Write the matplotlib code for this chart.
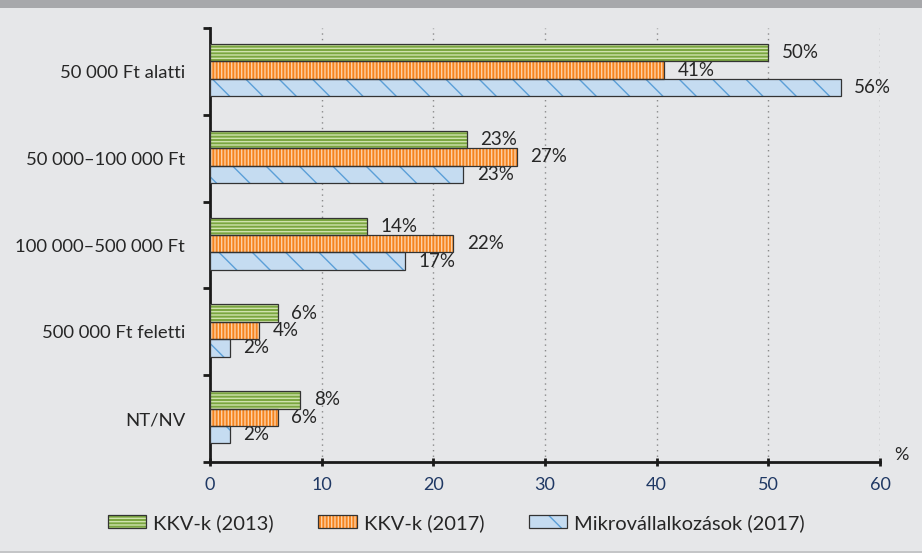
import matplotlib.pyplot as plt
import numpy as np
from matplotlib.patches import Patch, Rectangle

plt.rcParams['font.family'] = ['Lato', 'DejaVu Sans']
plt.rcParams['hatch.linewidth'] = 1.0

# data (shares in %)
categories = ["50 000 Ft alatti", "50 000–100 000 Ft", "100 000–500 000 Ft",
              "500 000 Ft feletti", "NT/NV"]
kkv_2013 = [50.0, 23.0, 14.1, 6.1, 8.1]
kkv_2017 = [40.7, 27.5, 21.8, 4.4, 6.1]
mikro_2017 = [56.5, 22.7, 17.5, 1.8, 1.8]
labels_2013 = ["50%", "23%", "14%", "6%", "8%"]
labels_2017 = ["41%", "27%", "22%", "4%", "6%"]
labels_mikro = ["56%", "23%", "17%", "2%", "2%"]
series_names = ["KKV-k (2013)", "KKV-k (2017)", "Mikrovállalkozások (2017)"]

bg = '#e6e7e9'
fig = plt.figure(figsize=(9.22, 5.53), dpi=100, facecolor=bg)
ax = fig.add_axes([210/922, 1-462/553, 670/922, 434/553])
ax.set_facecolor(bg)

# top band + bottom line
fig.patches.append(Rectangle((0, 1-8/553), 1, 8/553, transform=fig.transFigure,
                             facecolor='#a7a8ab', edgecolor='none', zorder=0))
fig.patches.append(Rectangle((0, 0), 1, 2/553, transform=fig.transFigure,
                             facecolor='#c4c5c7', edgecolor='none', zorder=0))

styles = [
    dict(face='#7aa63f', hatch_col='#cfe2ad', hatch='-----'),
    dict(face='#f5841f', hatch_col='#fdd0a4', hatch='|||||'),
    dict(face='#c5dcf1', hatch_col='#5b9fd8', hatch='\\'),
]
edge = '#333333'

y = np.arange(len(categories)) - 0.015
h = 0.2
series = [kkv_2013, kkv_2017, mikro_2017]
labels = [labels_2013, labels_2017, labels_mikro]
handles = []
for i, (vals, labs, st) in enumerate(zip(series, labels, styles)):
    pos = y + (i - 1) * h
    ax.barh(pos, vals, height=h, color=st['face'], edgecolor=st['hatch_col'],
            hatch=st['hatch'], linewidth=0, zorder=3)
    ax.barh(pos, vals, height=h, fill=False, edgecolor=edge, linewidth=0.9, zorder=4)
    for p, v, t in zip(pos, vals, labs):
        ax.annotate(t, (v, p), xytext=(9.5, 0), textcoords='offset points',
                    va='center', ha='left', fontsize=13.5, color='#262626')
    handles.append((Patch(facecolor=st['face'], edgecolor=st['hatch_col'],
                          hatch=st['hatch'], linewidth=0),
                    Patch(fill=False, edgecolor=edge, linewidth=0.9)))

ax.set_xlim(0, 60)
ax.set_ylim(4.5, -0.5)
ax.set_xticks(np.arange(0, 61, 10))
ax.set_yticks(np.arange(len(categories)))
ax.set_yticklabels(categories)
ax.set_yticks(np.arange(-0.5, 4.6, 1), minor=True)
ax.tick_params(axis='y', which='major', length=0, pad=18, labelsize=13.3,
               labelcolor='#262626')
ax.tick_params(axis='y', which='minor', length=5, width=2, direction='out',
               color='#1a1a1a')
ax.tick_params(axis='x', which='major', length=6, width=2, direction='inout',
               color='#1a1a1a', labelsize=13, labelcolor='#1f3864', pad=8)

ax.grid(axis='x', color='#8a8a8a', linestyle=(0, (1, 3)), linewidth=1, zorder=1)
for s in ['top', 'right']:
    ax.spines[s].set_visible(False)
for s in ['left', 'bottom']:
    ax.spines[s].set_linewidth(2)
    ax.spines[s].set_color('#1a1a1a')

ax.annotate('%', (60, 4.5), xytext=(10, -1), textcoords='offset points',
            ha='left', va='bottom', fontsize=13, color='#262626',
            annotation_clip=False)

fig.legend(handles, series_names, loc='center', bbox_to_anchor=(0.495, 1-523/553),
           ncol=3, frameon=False, fontsize=14.5, handlelength=1.9, handleheight=0.6,
           columnspacing=2.2, handletextpad=0.36, labelcolor='#262626')

fig.savefig('out.png', dpi=100, facecolor=bg)
